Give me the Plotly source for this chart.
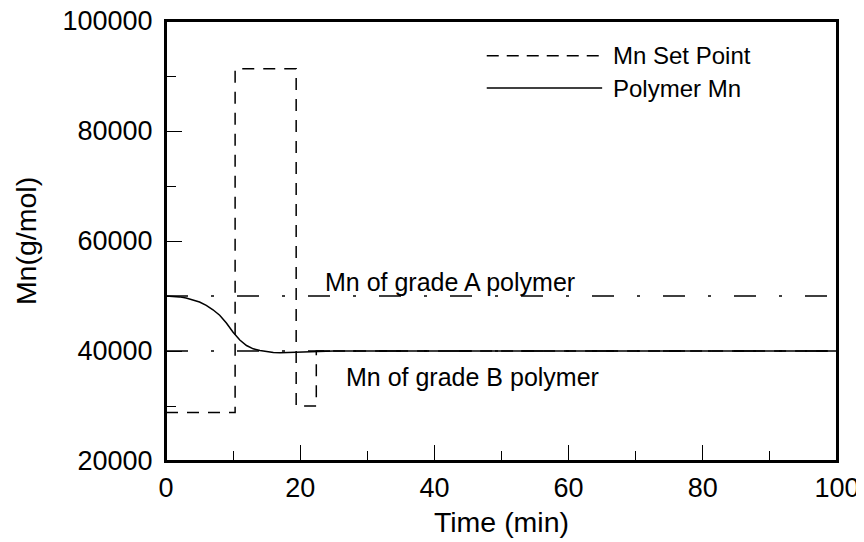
import plotly.graph_objects as go

# ---- data ----
time_sp = [0, 10.3, 10.3, 19.4, 19.4, 22.4, 22.4, 100]
mn_sp = [28800, 28800, 91300, 91300, 30000, 30000, 40000, 40000]

time_pm = [0, 1, 2, 3, 4, 5, 6, 7, 8, 9, 10, 11, 12, 13, 14, 15, 16, 17, 18, 19, 20, 22, 25, 30, 40, 50, 60, 70, 80, 90, 100]
mn_pm = [50000, 49960, 49840, 49640, 49330, 48900, 48300, 47500, 46500, 45100, 43400, 42000, 41000, 40400, 40100,
         39850, 39720, 39690, 39730, 39820, 39910, 39990, 40000, 40000, 40000, 40000, 40000, 40000, 40000, 40000, 40000]

grade_t = [0, 100]
grade_a = [50000, 50000]
grade_b = [40000, 40000]

legend_names = ["Mn Set Point", "Polymer Mn"]
grade_labels = ["Mn of grade A polymer", "Mn of grade B polymer"]

FONT = "Liberation Sans, Arial, sans-serif"
FS = 25
FS_TICK = 27
FS_TITLE = 28.5

fig = go.Figure()
dashdot = "22px,23px,3px,23px"
fig.add_trace(go.Scatter(x=grade_t, y=grade_a, mode="lines", line=dict(color="black", width=1.3, dash=dashdot),
                         showlegend=False, hoverinfo="skip"))
fig.add_trace(go.Scatter(x=grade_t, y=grade_b, mode="lines", line=dict(color="black", width=1.3, dash=dashdot),
                         showlegend=False, hoverinfo="skip"))
fig.add_trace(go.Scatter(x=time_sp, y=mn_sp, mode="lines", name=legend_names[0],
                         line=dict(color="black", width=1.5, dash="12px,9px"), showlegend=False))
fig.add_trace(go.Scatter(x=time_pm, y=mn_pm, mode="lines", name=legend_names[1],
                         line=dict(color="black", width=1.5), showlegend=False))

# manual legend (long line samples like the original)
leg_x0, leg_x1, leg_tx = 47.8, 65.0, 66.3
leg_y = [93700, 87800]
leg_dash = ["12px,8px", "solid"]
for yy, dd, name in zip(leg_y, leg_dash, legend_names):
    fig.add_shape(type="line", xref="x", yref="y", x0=leg_x0, x1=leg_x1, y0=yy, y1=yy,
                  line=dict(color="black", width=1.5, dash=dd))
    fig.add_annotation(x=leg_tx, y=yy, xref="x", yref="y", text=name, showarrow=False,
                       xanchor="left", yanchor="middle", font=dict(size=24, color="black", family=FONT))

# plot frame
fig.add_shape(type="rect", xref="paper", yref="paper", x0=0, x1=1, y0=0, y1=1,
              line=dict(color="black", width=2), fillcolor="rgba(0,0,0,0)", layer="above")

fig.add_annotation(x=23.4, y=52550, xref="x", yref="y", text=grade_labels[0], showarrow=False,
                   xanchor="left", yanchor="middle", font=dict(size=FS, color="black", family=FONT))
fig.add_annotation(x=26.5, y=35270, xref="x", yref="y", text=grade_labels[1], showarrow=False,
                   xanchor="left", yanchor="middle", font=dict(size=FS, color="black", family=FONT))

axis_common = dict(showgrid=False, zeroline=False, showline=True, linecolor="black", linewidth=2, mirror=True,
                   ticks="inside", ticklen=16, tickwidth=1.3, tickcolor="black", automargin=False,
                   ticklabeloverflow="allow",
                   tickfont=dict(size=FS_TICK, color="black", family=FONT))

fig.update_xaxes(range=[0, 100], tickmode="linear", tick0=0, dtick=20,
                 minor=dict(ticks="inside", ticklen=10, tickwidth=1.3, tickcolor="black", dtick=10, showgrid=False),
                 title=dict(text="Time (min)", font=dict(size=FS_TITLE, color="black", family=FONT), standoff=10),
                 ticklabelstandoff=2, **axis_common)
fig.update_yaxes(range=[20000, 100000], tickmode="linear", tick0=20000, dtick=20000, tickformat="d",
                 minor=dict(ticks="inside", ticklen=10, tickwidth=1.3, tickcolor="black", dtick=10000, showgrid=False),
                 title=dict(text="Mn(g/mol)", font=dict(size=FS_TITLE, color="black", family=FONT), standoff=18),
                 ticklabelstandoff=6, **axis_common)

# the page body adds an 8px offset, so the figure is 8px smaller than the window
fig.update_layout(width=856, height=534, margin=dict(l=158, r=27, t=13, b=81, autoexpand=False),
                  plot_bgcolor="white", paper_bgcolor="white",
                  font=dict(family=FONT, size=FS, color="black"), showlegend=False)

fig.write_html("out.html")
